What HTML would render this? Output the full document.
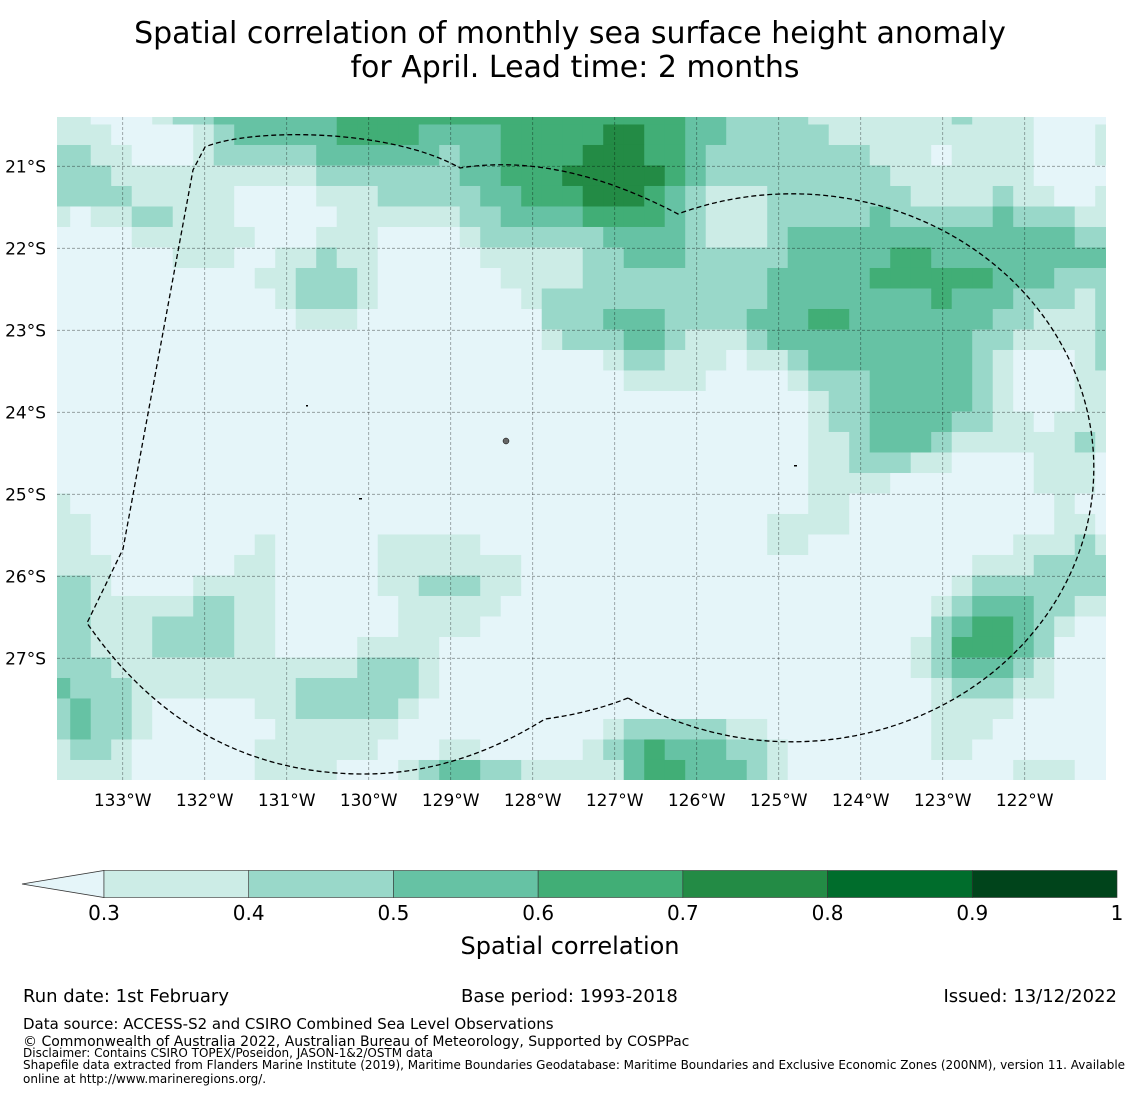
<!DOCTYPE html>
<html><head><meta charset="utf-8"><style>
body{margin:0;background:#fff;}
svg text{font-family:"DejaVu Sans","Liberation Sans",sans-serif;}
</style></head><body>
<svg id="chart" width="1140" height="1095" viewBox="0 0 1140 1095" xmlns="http://www.w3.org/2000/svg">
<rect width="1140" height="1095" fill="#fff"/>
<text x="570" y="43" font-size="30" text-anchor="middle">Spatial correlation of monthly sea surface height anomaly</text>
<text x="575" y="77" font-size="30" text-anchor="middle">for April. Lead time: 2 months</text>
<defs><clipPath id="plotclip"><rect x="57" y="117" width="1049" height="663"/></clipPath></defs>
<g id="cells" clip-path="url(#plotclip)"></g>
<g id="grid" clip-path="url(#plotclip)"></g>
<g clip-path="url(#plotclip)">
<path d="M628,698 Q590,713 545,719 Q455,775 360,774 Q190,772 87,623 L123,549 L193,170 L205,147 C250,128 390,128 460,168 Q560,152 678,214 A302,274 0 1 1 628,698 Z" fill="none" stroke="#000" stroke-width="1.3" stroke-dasharray="5,3"/>
<circle cx="506" cy="441" r="3" fill="#666" stroke="#000" stroke-width="0.5"/>
<rect x="306" y="405" width="2" height="1.5" fill="#000"/>
<rect x="359" y="498" width="3" height="1.5" fill="#000"/>
<rect x="794" y="465" width="3" height="1.5" fill="#000"/>
</g>
<g id="axes"></g>
<g id="cbar"></g>
<text x="570" y="954" font-size="24" text-anchor="middle">Spatial correlation</text>
<text x="23" y="1002" font-size="18">Run date: 1st February</text>
<text x="461" y="1002" font-size="18">Base period: 1993-2018</text>
<text x="1117" y="1002" font-size="18" text-anchor="end">Issued: 13/12/2022</text>
<text x="23" y="1029" font-size="15">Data source: ACCESS-S2 and CSIRO Combined Sea Level Observations</text>
<text x="23" y="1046" font-size="14">© Commonwealth of Australia 2022, Australian Bureau of Meteorology, Supported by COSPPac</text>
<text x="23" y="1057" font-size="12">Disclaimer: Contains CSIRO TOPEX/Poseidon, JASON-1&amp;2/OSTM data</text>
<text x="23" y="1069" font-size="12">Shapefile data extracted from Flanders Marine Institute (2019), Maritime Boundaries Geodatabase: Maritime Boundaries and Exclusive Economic Zones (200NM), version 11. Available</text>
<text x="23" y="1083" font-size="12">online at http://www.marineregions.org/.</text>
</svg>
<script>
const gridRows = [
"110001223333334444"+"44444444444443322"+"22111111121110000",
"111000012333334444"+"33334444455443322"+"22211111111110001",
"221100012222233333"+"32334444555443222"+"22222111011110001",
"222111111111122222"+"22334445555543222"+"22222211111110000",
"222211111000011122"+"22233444555432111"+"22222221111211001",
"101122111000001111"+"11223333444432111"+"22222322222322211",
"000011111100011100"+"00122222233332111"+"23333333333333322",
"000000111001121100"+"00011111223332222"+"23333344333333333",
"000000000011222100"+"00001111222222222"+"33333444444333222",
"000000000001222100"+"00000122222222222"+"33333333433322212",
"000000000000111000"+"00000022233322223"+"33443333333221112",
"000000000000000000"+"00000012223321112"+"33333333332211112",
"000000000000000000"+"00000000012211101"+"12333333332100012",
"000000000000000000"+"00000000001111000"+"01222333332100011",
"000000000000000000"+"00000000000000000"+"00122333332100011",
"000000000000000000"+"00000000000000000"+"00122333322110111",
"000000000000000000"+"00000000000000000"+"00112333211111121",
"000000000000000000"+"00000000000000000"+"00112221100001110",
"000000000000000000"+"00000000000000000"+"00111100000001110",
"100000000000000000"+"00000000000000000"+"00110000000000100",
"110000000000000000"+"00000000000000000"+"11110000000000110",
"110000000010000011"+"11100000000000000"+"11000000000011121",
"111000000110000011"+"11111000000000000"+"00000000001112222",
"221000011110000011"+"22211000000000000"+"00000000012222222",
"221111122110000001"+"11110000000000000"+"00000000123332211",
"221112222110000001"+"11100000000000000"+"00000000234432100",
"221112222110000111"+"10000000000000000"+"00000001244432000",
"222111111111111222"+"10000000000000000"+"00000001233321000",
"322211111111222222"+"10000000000000000"+"00000000122211000",
"232210000011222221"+"00000000000000000"+"00000000111100000",
"232210000001111110"+"00000000012222211"+"00000000111000000",
"122100000011111100"+"01100000123433322"+"10000000110000000",
"111100000011110001"+"23322111113443332"+"10000000000011100"
];
const levelColors = ["#e5f5f9","#ccece6","#99d8c9","#66c2a4","#41ae76","#238b45","#006d2c","#00441b"];
const lonTicks = [-133,-132,-131,-130,-129,-128,-127,-126,-125,-124,-123,-122];
const lonTickLabels = ["133°W","132°W","131°W","130°W","129°W","128°W","127°W","126°W","125°W","124°W","123°W","122°W"];
const latTicks = [-21,-22,-23,-24,-25,-26,-27];
const latTickLabels = ["21°S","22°S","23°S","24°S","25°S","26°S","27°S"];
const cbarBounds = [0.3,0.4,0.5,0.6,0.7,0.8,0.9,1];
const cbarLabels = ["0.3","0.4","0.5","0.6","0.7","0.8","0.9","1"];

const NS="http://www.w3.org/2000/svg";
const xLon = lon => 122.7 + (lon + 133) * 82;
const yLat = lat => 166.3 - (lat + 21) * 82;
const lonStart = -133.64, latStart = -20.49, step = 0.25;
function mk(tag, attrs, parent){const e=document.createElementNS(NS,tag);for(const k in attrs)e.setAttribute(k,attrs[k]);parent.appendChild(e);return e;}

const cells=document.getElementById('cells');
gridRows.forEach((row, r) => {
  const latTop = r===0 ? latStart + 0.1 : latStart - step*(r-1);
  const latBot = latStart - step*r;
  for (let c=0;c<row.length;c++){
    const lonL = c===0 ? lonStart - 0.17 : lonStart + step*(c-1);
    const lonR = lonStart + step*c;
    const x0=xLon(lonL), x1=xLon(lonR), y0=yLat(latTop), y1=yLat(latBot);
    const e=mk('rect',{x:x0,y:y0,width:x1-x0+0.4,height:y1-y0+0.4,fill:levelColors[+row[c]]},cells);
    
    
  }
});

const grid=document.getElementById('grid'), axes=document.getElementById('axes');
lonTicks.forEach((lon,i)=>{
  const x=xLon(lon);
  const l=mk('line',{x1:x,x2:x,y1:117,y2:780,stroke:"rgba(0,0,0,0.4)","stroke-width":0.8,"stroke-dasharray":"3,2"},grid);
  
  
  const t=mk('text',{x:x,y:806,"font-size":17,"text-anchor":"middle"},axes);
  t.textContent=lonTickLabels[i];
  
  
});
latTicks.forEach((lat,i)=>{
  const y=yLat(lat);
  const l=mk('line',{x1:57,x2:1106,y1:y,y2:y,stroke:"rgba(0,0,0,0.4)","stroke-width":0.8,"stroke-dasharray":"3,2"},grid);
  
  
  const t=mk('text',{x:46,y:y+6,"font-size":17,"text-anchor":"end"},axes);
  t.textContent=latTickLabels[i];
  
  
});

const cbar=document.getElementById('cbar');
const cx = v => 104 + (v-0.3)/0.7*1013;
const tri=mk('polygon',{points:"22,884 104,870.5 104,897.5",fill:levelColors[0],stroke:"#333","stroke-width":0.8},cbar);


for(let i=0;i<cbarBounds.length-1;i++){
  const x0=cx(cbarBounds[i]), x1=cx(cbarBounds[i+1]);
  const s=mk('rect',{x:x0,y:870.5,width:x1-x0,height:27,fill:levelColors[i+1],stroke:"#333","stroke-width":0.6},cbar);
  
  
}
cbarBounds.forEach((v,i)=>{
  const t=mk('text',{x:cx(v),y:920,"font-size":20,"text-anchor":"middle"},cbar);
  t.textContent=cbarLabels[i];
  
  
});
</script>
</body></html>
